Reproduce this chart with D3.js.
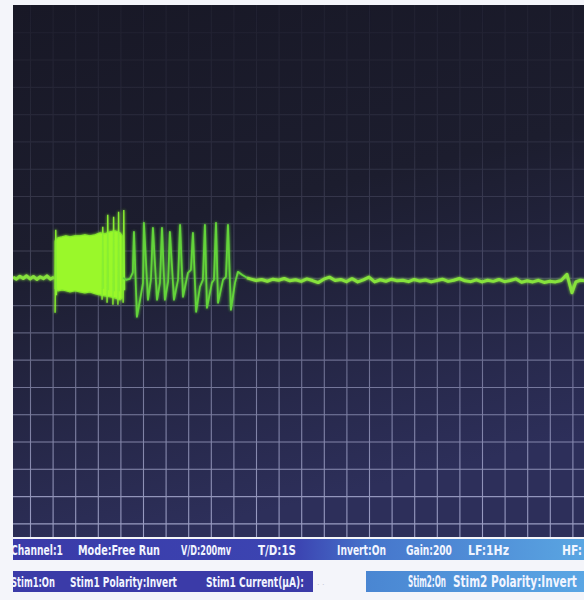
<!DOCTYPE html>
<html>
<head>
<meta charset="utf-8">
<script src="https://cdn.jsdelivr.net/npm/d3@7"></script>
<style>
  html, body { margin: 0; padding: 0; background: #f4f5fa; }
  svg { display: block; }
</style>
</head>
<body>
<div class="canva"></div>
<script>
// scope trace: 1 s per division, 200 mV per division

// grid ticks (divisions)
const timeTicks = d3.range(0, 25);            // seconds
const voltTicks = d3.range(-1800, 2000, 200);  // mV

// baseline before the stimulus burst  [t (s), mV]
const preBurst = [
  [-0.75, 5], [-0.6, -10], [-0.45, 12], [-0.3, -5], [-0.15, 15], [0, -8],
  [0.15, 10], [0.3, -12], [0.45, 8], [0.6, -6], [0.75, 14], [0.9, -10], [1.06, 5]
];

// dense burst, upper / lower envelope
const burstT  = [1.11, 1.24, 1.42, 1.59, 1.77, 1.99, 2.21, 2.43, 2.65, 2.88, 3.10, 3.32, 3.54, 3.76, 3.98, 4.07];
const burstHi = [271, 293, 300, 308, 300, 308, 308, 315, 308, 315, 330, 322, 337, 344, 330, 308];
const burstLo = [-80, -95, -88, -95, -103, -95, -103, -110, -103, -117, -125, -132, -139, -147, -161, -147];

// single spikes sticking out of the burst
const burstSpikeT  = [1.11, 3.19, 3.41, 3.67, 3.89, 4.12];
const burstSpikeHi = [352, 374, 462, 447, 484, 498];
const burstSpikeLo = [-256, -161, -183, -198, -198, -183];

// spike train after the burst  [t (s), mV]
const spikeTrain = [
  [4.12, 0], [4.25, -15], [4.42, -7], [4.55, 40], [4.60, 337], [4.73, -286],
  [4.87, -161], [5.00, -37], [5.04, 403], [5.22, -161], [5.35, -15], [5.44, 366],
  [5.62, -161], [5.75, -37], [5.84, 366], [5.97, -161], [6.11, -29], [6.19, 337],
  [6.37, -161], [6.55, -15], [6.64, 388], [6.77, -139], [6.99, 37], [7.12, 59],
  [7.21, 330], [7.35, -249], [7.52, -66], [7.65, -15], [7.74, 388], [7.83, -220],
  [8.05, -37], [8.14, -15], [8.23, 403], [8.32, -183], [8.54, -15], [8.67, 7],
  [8.76, 388], [8.89, -234], [9.07, -37], [9.20, 44], [9.38, 22], [9.60, 0]
];

// flat tail
const tail = [
  [9.60, 0], [9.75, -8], [10.0, -20], [10.25, -12], [10.5, -25], [10.75, -10], [11.0, -18],
  [11.25, -5], [11.5, -22], [11.75, -14], [12.0, -26], [12.25, -8], [12.5, -20],
  [12.75, -35], [13.0, -10], [13.25, 5], [13.5, -20], [13.75, -12], [14.0, -28],
  [14.25, -6], [14.5, -30], [14.75, -15], [15.0, 5], [15.25, -30], [15.5, -14],
  [15.75, -25], [16.0, -10], [16.25, -22], [16.5, -18], [16.75, -28], [17.0, -12],
  [17.25, -24], [17.5, -16], [17.75, -30], [18.0, -20], [18.25, -10], [18.5, -26],
  [18.75, -18], [19.0, -5], [19.25, -22], [19.5, -28], [19.75, -15], [20.0, -30],
  [20.25, -18], [20.5, -26], [20.75, -12], [21.0, -28], [21.25, -20], [21.5, -8],
  [21.75, -32], [22.0, -22], [22.25, -30], [22.5, -18], [22.75, -34], [23.0, -25],
  [23.25, -30], [23.5, -20], [23.76, 25], [23.98, -110], [24.15, -30], [24.35, -18], [24.55, -22]
];

// status bar text
const row1Labels = ["Channel:1", "Mode:Free Run", "V/D:200mv", "T/D:1S", "Invert:On", "Gain:200", "LF:1Hz", "HF:"];
const row2Left   = ["Stim1:On", "Stim1 Polarity:Invert", "Stim1 Current(\u03bcA):"];
const row2Right  = ["Stim2:On", "Stim2 Polarity:Invert"];

// layout
const W = 584, H = 600;
const scr = {x0: 13, y0: 5, x1: 584, y1: 537};
const row1X = [11, 78, 181, 258, 337, 406, 468, 562];
const row1W = [52, 82, 50, 38, 49, 46, 41, 20];
const row2LX = [11, 70, 206];
const row2LW = [44, 107, 98];
const row2RX = [408, 453];
const row2RW = [38, 124];

const x = d3.scaleLinear().domain([0, 24]).range([30, 572.4]);
const y = d3.scaleLinear().domain([-1900, 2000]).range([scr.y1, scr.y0]);

const svg = d3.select('.canva').append('svg')
    .attr('width', W)
    .attr('height', H);

const defs = svg.append('defs');

const bg = defs.append('linearGradient').attr('id', 'bgGrad')
    .attr('x1', 0).attr('y1', 0).attr('x2', 0.25).attr('y2', 1);
bg.append('stop').attr('offset', 0).attr('stop-color', '#181826');
bg.append('stop').attr('offset', 0.45).attr('stop-color', '#1c1d2e');
bg.append('stop').attr('offset', 1).attr('stop-color', '#2d2f5a');

const fade = defs.append('linearGradient').attr('id', 'fadeGrad')
    .attr('x1', 0).attr('y1', 0).attr('x2', 0).attr('y2', 1);
fade.append('stop').attr('offset', 0).attr('stop-color', '#fff').attr('stop-opacity', 0.04);
fade.append('stop').attr('offset', 0.25).attr('stop-color', '#fff').attr('stop-opacity', 0.08);
fade.append('stop').attr('offset', 0.5).attr('stop-color', '#fff').attr('stop-opacity', 0.22);
fade.append('stop').attr('offset', 0.7).attr('stop-color', '#fff').attr('stop-opacity', 0.45);
fade.append('stop').attr('offset', 1).attr('stop-color', '#fff').attr('stop-opacity', 0.7);

defs.append('mask').attr('id', 'gridMask')
  .append('rect')
    .attr('x', scr.x0).attr('y', scr.y0)
    .attr('width', scr.x1 - scr.x0).attr('height', scr.y1 - scr.y0)
    .attr('fill', 'url(#fadeGrad)');

defs.append('clipPath').attr('id', 'scrClip')
  .append('rect')
    .attr('x', scr.x0).attr('y', scr.y0)
    .attr('width', scr.x1 - scr.x0).attr('height', scr.y1 - scr.y0);

const glow = defs.append('filter').attr('id', 'glow')
    .attr('x', '-5%').attr('y', '-20%').attr('width', '110%').attr('height', '140%');
glow.append('feGaussianBlur').attr('in', 'SourceGraphic').attr('stdDeviation', 1.6).attr('result', 'b');
const fm = glow.append('feMerge');
fm.append('feMergeNode').attr('in', 'b');
fm.append('feMergeNode').attr('in', 'SourceGraphic');

const bar1 = defs.append('linearGradient').attr('id', 'bar1Grad');
bar1.append('stop').attr('offset', 0).attr('stop-color', '#3a3aa8');
bar1.append('stop').attr('offset', 0.5).attr('stop-color', '#3c45b2');
bar1.append('stop').attr('offset', 0.63).attr('stop-color', '#4676cc');
bar1.append('stop').attr('offset', 1).attr('stop-color', '#5aa6e2');

const bar2 = defs.append('linearGradient').attr('id', 'bar2Grad');
bar2.append('stop').attr('offset', 0).attr('stop-color', '#4a86d2');
bar2.append('stop').attr('offset', 1).attr('stop-color', '#5aa6e4');

// page + screen
svg.append('rect').attr('width', W).attr('height', H).attr('fill', '#f4f5fa');
svg.append('rect')
    .attr('x', scr.x0).attr('y', scr.y0)
    .attr('width', scr.x1 - scr.x0).attr('height', scr.y1 - scr.y0)
    .attr('fill', 'url(#bgGrad)');

const screen = svg.append('g').attr('clip-path', 'url(#scrClip)');

// grid from axes
const grid = screen.append('g').attr('mask', 'url(#gridMask)');
grid.append('g')
    .attr('transform', `translate(0,${scr.y1})`)
    .call(d3.axisBottom(x).tickValues(timeTicks).tickSize(-(scr.y1 - scr.y0)).tickFormat(''));
grid.append('g')
    .attr('transform', `translate(${scr.x0},0)`)
    .call(d3.axisLeft(y).tickValues(voltTicks).tickSize(-(scr.x1 - scr.x0)).tickFormat(''));
grid.selectAll('.domain').remove();
grid.selectAll('.tick line').attr('stroke', '#cdd0f4').attr('stroke-width', 1.1);

// trace
const line = d3.line().x(d => x(d[0])).y(d => y(d[1]));
const trace = screen.append('g').attr('filter', 'url(#glow)');

trace.append('path')
    .attr('d', line(preBurst))
    .attr('fill', 'none').attr('stroke', '#86e23c').attr('stroke-width', 3)
    .attr('stroke-linejoin', 'round');

const burst = burstT.map((t, i) => ({t: t, hi: burstHi[i], lo: burstLo[i]}));
trace.append('path')
    .attr('d', d3.area().x(d => x(d.t)).y0(d => y(d.lo)).y1(d => y(d.hi))(burst))
    .attr('fill', '#9af82a').attr('stroke', '#86ea2c').attr('stroke-width', 1.2);

trace.selectAll('.bspike')
    .data(burstSpikeT.map((t, i) => [[t, burstSpikeLo[i]], [t + 0.03, burstSpikeHi[i]], [t + 0.06, burstSpikeLo[i] * 0.5]]))
    .enter().append('path')
    .attr('class', 'bspike')
    .attr('d', d => line(d))
    .attr('fill', 'none').attr('stroke', '#88ee30').attr('stroke-width', 1.4);

trace.append('path')
    .attr('d', line(spikeTrain))
    .attr('fill', 'none').attr('stroke', '#64d43a').attr('stroke-width', 1.8)
    .attr('stroke-linejoin', 'round');

trace.append('path')
    .attr('d', line(tail))
    .attr('fill', 'none').attr('stroke', '#86e23c').attr('stroke-width', 3)
    .attr('stroke-linejoin', 'round');

// status bar
svg.append('rect').attr('x', scr.x0).attr('y', 539).attr('width', W - scr.x0).attr('height', 21)
    .attr('fill', 'url(#bar1Grad)');
svg.append('rect').attr('x', scr.x0).attr('y', 571).attr('width', 300).attr('height', 21)
    .attr('fill', '#3b3ba8');
svg.append('rect').attr('x', 366).attr('y', 571).attr('width', W - 366).attr('height', 21)
    .attr('fill', 'url(#bar2Grad)');
svg.append('text').attr('x', 317).attr('y', 585).text('. .')
    .attr('font-family', 'Liberation Sans, sans-serif').attr('font-size', 9).attr('fill', '#c6c9d8');

const txt = svg.append('g')
    .attr('font-family', '"DejaVu Sans Condensed", "Liberation Sans Narrow", sans-serif')
    .attr('font-weight', 'bold')
    .attr('fill', '#f2f5ff');

// squeeze each label horizontally to the width it has in the photo
function putRow(labels, xs, ws, yy, size) {
    txt.selectAll(null).data(labels).enter().append('text')
        .attr('font-size', size)
        .text(d => d)
        .attr('transform', function(d, i) {
            const len = this.getComputedTextLength() || ws[i];
            return `translate(${xs[i]},${yy}) scale(${ws[i] / len},1)`;
        });
}
putRow(row1Labels, row1X, row1W, 555, 14);
putRow(row2Left, row2LX, row2LW, 587, 14);
putRow(row2Right, row2RX, row2RW, 587, 15);

// left white margin of the photo
svg.append('rect').attr('x', 0).attr('y', 0).attr('width', scr.x0).attr('height', H).attr('fill', '#f4f5fa');
svg.append('rect').attr('x', 0).attr('y', 0).attr('width', W).attr('height', scr.y0).attr('fill', '#f4f5fa');
</script>
</body>
</html>
